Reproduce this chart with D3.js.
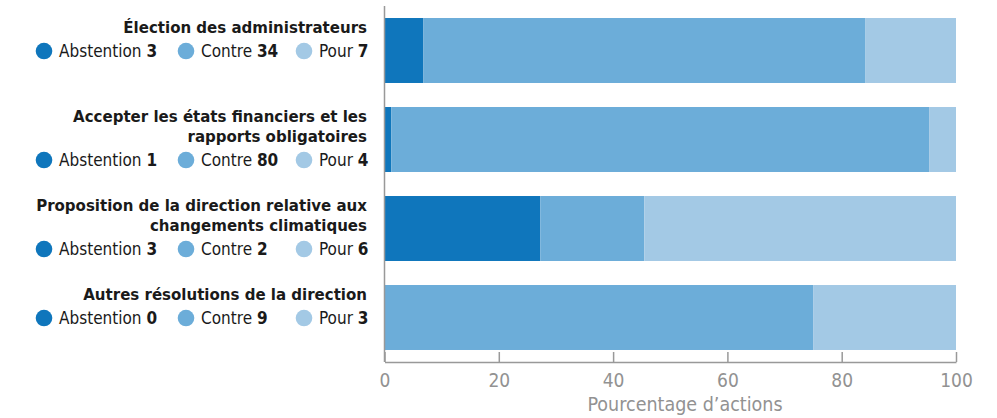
<!DOCTYPE html>
<html>
<head>
<meta charset="utf-8">
<script src="https://cdn.jsdelivr.net/npm/d3@7"></script>
<style>
  body { margin: 0; background: #fff; }
  svg text { font-family: "Liberation Sans Narrow", "DejaVu Sans Condensed", "Roboto", sans-serif; }
</style>
</head>
<body>
<div id="graph"></div>
<script>
// Data
var questions = [
    [ 'Élection des administrateurs' ],
    [ 'Accepter les états financiers et les', 'rapports obligatoires' ],
    [ 'Proposition de la direction relative aux', 'changements climatiques' ],
    [ 'Autres résolutions de la direction' ]
];
var categories = [ 'Abstention', 'Contre', 'Pour' ];
var abstention = [ 3, 1, 3, 0 ];
var contre     = [ 34, 80, 2, 9 ];
var pour       = [ 7, 4, 6, 3 ];
var xTicks     = [ 0, 20, 40, 60, 80, 100 ];
var axisTitle  = 'Pourcentage d\u2019actions';

var colours = [ '#0f76bc', '#6cadd9', '#a3c9e5' ];

// Size
var width  = 997;
var height = 418;

var svg = d3.select ('#graph').append ('svg')
            .attr ('width', width)
            .attr ('height', height);

var rows = questions.map (function (q, i) {
    return { id: i, Abstention: abstention[i], Contre: contre[i], Pour: pour[i] };
});

// stack as share of total
var stacked = d3.stack ()
                .keys (categories)
                .offset (d3.stackOffsetExpand) (rows);

var x = d3.scaleLinear ()
          .domain ([0, 1])
          .range ([384.5, 956]);

var y = d3.scaleBand ()
          .domain (rows.map (function (d) { return d.id; }))
          .range ([6, 362])
          .paddingInner (0.27)
          .paddingOuter (0.135);

var colour = d3.scaleOrdinal ()
               .domain (categories)
               .range (colours);

// bars
svg.append ('g')
   .selectAll ('g')
   .data (stacked)
   .enter ()
   .append ('g')
   .attr ('fill', function (d) { return colour (d.key); })
   .selectAll ('rect')
   .data (function (d) { return d; })
   .enter ()
   .append ('rect')
   .attr ('x', function (d) { return x (d[0]); })
   .attr ('width', function (d) { return x (d[1]) - x (d[0]); })
   .attr ('y', function (d) { return y (d.data.id); })
   .attr ('height', y.bandwidth ());

// x axis, ticks pointing up
var xAxis = d3.axisBottom (x)
              .tickValues (xTicks.map (function (t) { return t / 100; }))
              .tickFormat (function (d, i) { return xTicks[i]; })
              .tickSizeInner (-10)
              .tickSizeOuter (0)
              .tickPadding (12);

var gx = svg.append ('g')
            .attr ('transform', 'translate(0,362)')
            .call (xAxis);

gx.select ('.domain').attr ('stroke', '#999').attr ('stroke-width', 1.5);
gx.selectAll ('.tick line').attr ('stroke', '#999').attr ('stroke-width', 1.5);
gx.selectAll ('.tick text')
  .attr ('fill', '#929292')
  .style ('font-size', '19px')
  .attr ('dy', '0.71em');

// y axis line
svg.append ('line')
   .attr ('x1', 384.5).attr ('x2', 384.5)
   .attr ('y1', 6).attr ('y2', 362)
   .attr ('stroke', '#999')
   .attr ('stroke-width', 1.5);

// axis title
svg.append ('text')
   .attr ('x', 685)
   .attr ('y', 411)
   .attr ('text-anchor', 'middle')
   .attr ('fill', '#929292')
   .style ('font-size', '19.5px')
   .text (axisTitle);

// labels and legends to the left of each bar
var labelRight = 367;
var dotX = [ 44, 186, 304 ];
var values = [ abstention, contre, pour ];

var groups = svg.append ('g')
                .selectAll ('g')
                .data (rows)
                .enter ()
                .append ('g')
                .attr ('transform', function (d) { return 'translate(0,' + (y (d.id) + 15) + ')'; });

groups.each (function (d, i) {
    var g = d3.select (this);
    var lines = questions[i];

    lines.forEach (function (line, j) {
        g.append ('text')
         .attr ('x', labelRight)
         .attr ('y', j * 20)
         .attr ('text-anchor', 'end')
         .attr ('fill', '#1a1a1a')
         .style ('font-size', '16.7px')
         .style ('font-weight', 'bold')
         .text (line);
    });

    var legendY = (lines.length - 1) * 20 + 18;

    categories.forEach (function (cat, k) {
        g.append ('circle')
         .attr ('cx', dotX[k])
         .attr ('cy', legendY)
         .attr ('r', 8.3)
         .attr ('fill', colour (cat));

        var t = g.append ('text')
                 .attr ('x', dotX[k] + 15)
                 .attr ('y', legendY + 6)
                 .attr ('fill', '#1a1a1a')
                 .style ('font-size', '17px');
        t.append ('tspan').text (cat + ' ');
        t.append ('tspan').style ('font-weight', 'bold').text (values[k][i]);
    });
});
</script>
</body>
</html>
